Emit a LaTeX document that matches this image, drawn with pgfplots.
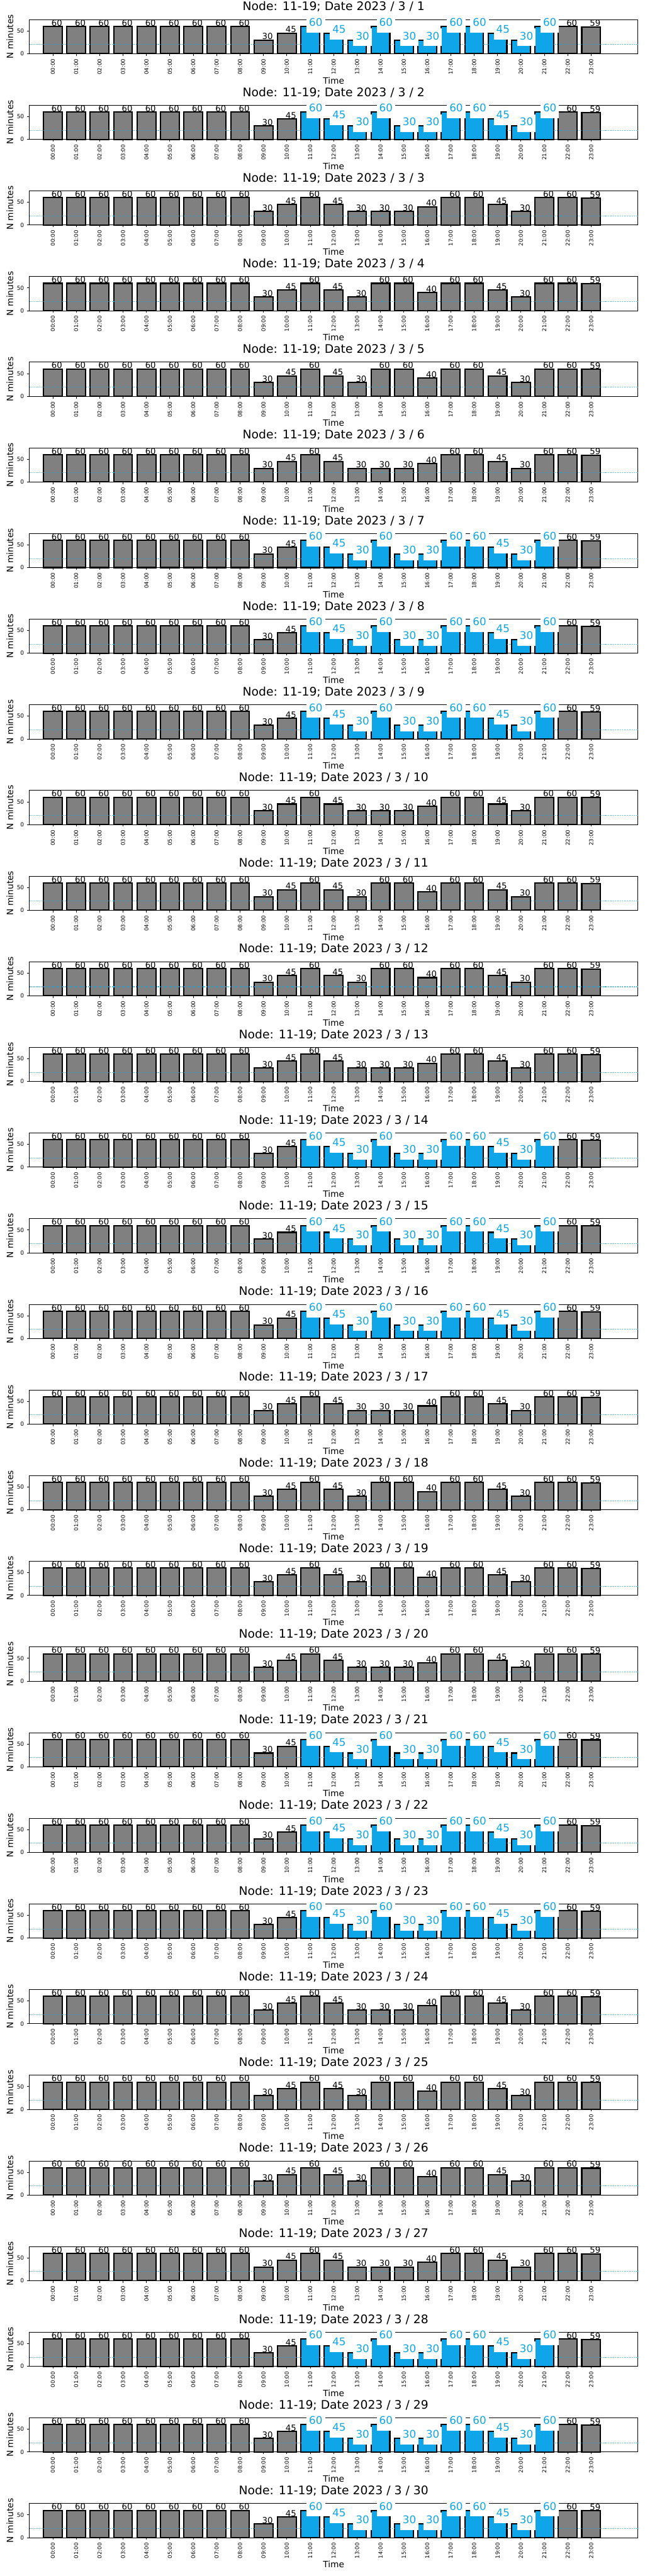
\documentclass[border=0pt]{standalone}
\usepackage{pgfplots}
\pgfplotsset{compat=1.18}
\usepackage{pgfplotstable}
\usepackage{fontspec}
\setmainfont{DejaVu Sans}
\definecolor{barblue}{HTML}{0EA5E9}
\definecolor{bargray}{HTML}{808080}
\pgfkeys{/pgf/number format/assume math mode=true}

% Weekday pattern (Fri / Mon)
\pgfplotstableread{
x y
0 60
1 60
2 60
3 60
4 60
5 60
6 60
7 60
8 60
9 30
10 45
11 60
12 45
13 30
14 30
15 30
16 40
17 60
18 60
19 45
20 30
21 60
22 60
23 59
}\patA
% Weekend pattern (Sat / Sun)
\pgfplotstableread{
x y
0 60
1 60
2 60
3 60
4 60
5 60
6 60
7 60
8 60
9 30
10 45
11 60
12 45
13 30
14 60
15 60
16 40
17 60
18 60
19 45
20 30
21 60
22 60
23 59
}\patB
% Tue-Thu: grey hours
\pgfplotstableread{
x y
0 60
1 60
2 60
3 60
4 60
5 60
6 60
7 60
8 60
9 30
10 45
22 60
23 59
}\patCgray
% Tue-Thu: highlighted hours
\pgfplotstableread{
x y
11 60
12 45
13 30
14 60
15 30
16 30
17 60
18 60
19 45
20 30
21 60
}\patCblue
% threshold line
\pgfplotstableread{
x y
-1 20
25 20
}\thresh

\pgfplotsset{
  dayaxis/.style={
    width=708.3pt, height=39.75pt, scale only axis,
    anchor=south west,
    xmin=-1, xmax=25, ymin=0, ymax=75,
    xtick={0,...,23},
    xticklabels={00:00,01:00,02:00,03:00,04:00,05:00,06:00,07:00,08:00,09:00,10:00,11:00,12:00,13:00,14:00,15:00,16:00,17:00,18:00,19:00,20:00,21:00,22:00,23:00},
    ytick={0,50},
    tick align=outside, major tick length=2.5pt, tick pos=left,
    axis line style={line width=0.55pt},
    every tick/.style={black, line width=0.55pt},
    clip=false,
    xticklabel style={rotate=90, anchor=east, inner sep=0pt, font=\fontsize{6.35pt}{7pt}\selectfont},
    xticklabel shift=3.5pt,
    yticklabel style={anchor=east, inner sep=0pt, font=\fontsize{6.6pt}{7pt}\selectfont},
    yticklabel shift=3.5pt,
    title style={at={(axis description cs:0.5,1.1107)}, anchor=base, inner sep=0pt, font=\fontsize{13.75pt}{16pt}\selectfont},
    xlabel={Time}, ylabel={N minutes},
    xlabel style={at={(axis description cs:0.5,-0.8805)}, anchor=base, inner sep=0pt, font=\fontsize{10.1pt}{12pt}\selectfont},
    ylabel style={at={(axis description cs:-0.032,0.5)}, anchor=center, rotate=0, inner sep=0pt, font=\fontsize{10.1pt}{12pt}\selectfont},
  },
  greybars/.style={ybar, bar width=0.8, bar shift=0pt, fill=bargray, draw=black, line width=1.5pt},
  bluebars/.style={ybar, bar width=0.8, bar shift=0pt, fill=barblue, draw=black, line width=1.5pt},
  refline/.style={sharp plot, mark=none, barblue, line width=0.75pt, dash pattern=on 0.75pt off 1.25pt},
  greylab/.style={ybar, bar width=0.8, bar shift=0pt, draw=none, fill=none, nodes near coords,
    every node near coord/.append style={anchor=base west, inner sep=0pt, xshift=-1.6pt, yshift=0.6pt, text=black, font=\fontsize{9.75pt}{11pt}\selectfont}},
  bluelab/.style={ybar, bar width=0.8, bar shift=0pt, draw=none, fill=none, nodes near coords,
    every node near coord/.append style={anchor=base west, fill=white, inner xsep=3pt, inner ysep=3.5pt, text height=9.5pt, text depth=4pt, xshift=-4.6pt, yshift=0.3pt, text=barblue, font=\fontsize{12.25pt}{14pt}\selectfont}},
}

\newcommand\plotA{%
  \addplot[greybars] table {\patA};
  \addplot[refline] table {\thresh};
  \addplot[greylab] table {\patA};
}
\newcommand\plotB{%
  \addplot[greybars] table {\patB};
  \addplot[refline] table {\thresh};
  \addplot[greylab] table {\patB};
}
\newcommand\plotC{%
  \addplot[greybars] table {\patCgray};
  \addplot[bluebars] table {\patCblue};
  \addplot[refline] table {\thresh};
  \addplot[greylab] table {\patCgray};
  \addplot[bluelab] table {\patCblue};
}

\begin{document}
\begin{tikzpicture}
\path[use as bounding box] (0,0) rectangle (750pt,-3000pt);
\foreach \d/\t in {1/C,2/C,3/A,4/B,5/B,6/A,7/C,8/C,9/C,10/A,11/B,12/B,13/A,14/C,15/C,16/C,17/A,18/B,19/B,20/A,21/C,22/C,23/C,24/A,25/B,26/B,27/A,28/C,29/C,30/C} {
  \pgfmathsetmacro\yb{-(62.5+99.75*(\d-1))}
  \begin{axis}[dayaxis, at={(34.2pt,\yb pt)}, title={Node: 11-19; Date 2023 / 3 / \d}]
    \csname plot\t\endcsname
  \end{axis}
}
\end{tikzpicture}
\end{document}
